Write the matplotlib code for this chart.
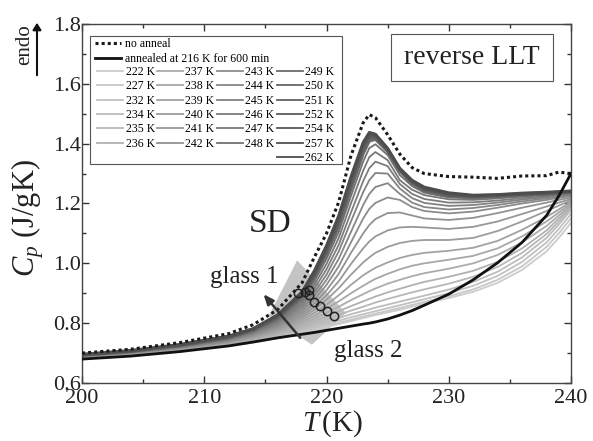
import numpy as np
import matplotlib
matplotlib.use("Agg")
import matplotlib.pyplot as plt
from matplotlib.patches import Polygon, Rectangle
from matplotlib.lines import Line2D
from matplotlib.ticker import MultipleLocator

plt.rcParams['font.family'] = ['Liberation Serif', 'DejaVu Serif']
plt.rcParams['mathtext.fontset'] = 'custom'
plt.rcParams['mathtext.rm'] = 'Liberation Serif'
plt.rcParams['mathtext.it'] = 'Liberation Serif:italic'

# temperature grid (K) shared by all scans
T = [200, 204, 208, 212, 214, 216, 218, 219, 220, 221, 222, 223, 223.5, 224,
     225, 226, 227, 228, 230, 232, 234, 236, 238, 239, 240]

# Cp (J/gK)
cp_no_anneal = [0.700, 0.713, 0.735, 0.765, 0.795, 0.845, 0.935, 1.020, 1.100, 1.205,
                1.360, 1.470, 1.497, 1.487, 1.430, 1.365, 1.320, 1.300, 1.290, 1.288,
                1.284, 1.292, 1.293, 1.305, 1.300]
cp_216 = [0.680, 0.690, 0.705, 0.724, 0.737, 0.751, 0.763, 0.769, 0.776, 0.783,
          0.790, 0.797, 0.800, 0.804, 0.814, 0.827, 0.842, 0.860, 0.897, 0.945,
          1.002, 1.070, 1.160, 1.225, 1.300]

cp_222 = [0.683, 0.692, 0.706, 0.723, 0.735, 0.749, 0.767, 0.777, 0.787, 0.797, 0.807, 0.817, 0.822,
          0.827, 0.836, 0.845, 0.855, 0.865, 0.884, 0.905, 0.935, 0.978, 1.040, 1.085, 1.135]
cp_227 = [0.683, 0.693, 0.707, 0.724, 0.737, 0.751, 0.770, 0.780, 0.791, 0.801, 0.812, 0.822, 0.827,
          0.832, 0.841, 0.851, 0.861, 0.871, 0.890, 0.913, 0.945, 0.990, 1.055, 1.100, 1.150]
cp_232 = [0.684, 0.694, 0.708, 0.726, 0.739, 0.754, 0.774, 0.785, 0.797, 0.808, 0.820, 0.830, 0.835,
          0.840, 0.850, 0.860, 0.870, 0.880, 0.900, 0.925, 0.958, 1.005, 1.070, 1.115, 1.165]
cp_234 = [0.685, 0.695, 0.709, 0.727, 0.741, 0.757, 0.779, 0.791, 0.804, 0.817, 0.830, 0.841, 0.846,
          0.852, 0.862, 0.872, 0.882, 0.892, 0.912, 0.938, 0.972, 1.020, 1.085, 1.130, 1.178]
cp_235 = [0.686, 0.696, 0.710, 0.729, 0.743, 0.760, 0.784, 0.798, 0.813, 0.828, 0.842, 0.855, 0.862,
          0.869, 0.881, 0.892, 0.903, 0.913, 0.932, 0.955, 0.988, 1.035, 1.098, 1.140, 1.185]
cp_236 = [0.686, 0.696, 0.711, 0.730, 0.745, 0.764, 0.790, 0.806, 0.823, 0.840, 0.857, 0.873, 0.881,
          0.889, 0.903, 0.915, 0.927, 0.938, 0.955, 0.975, 1.005, 1.050, 1.110, 1.150, 1.190]
cp_237 = [0.687, 0.697, 0.712, 0.732, 0.748, 0.768, 0.797, 0.815, 0.835, 0.855, 0.877, 0.897, 0.907,
          0.916, 0.932, 0.945, 0.957, 0.967, 0.982, 1.000, 1.028, 1.070, 1.125, 1.160, 1.195]
cp_238 = [0.687, 0.698, 0.713, 0.733, 0.750, 0.772, 0.804, 0.824, 0.848, 0.873, 0.900, 0.925, 0.937,
          0.948, 0.965, 0.980, 0.992, 1.000, 1.012, 1.025, 1.050, 1.090, 1.140, 1.170, 1.200]
cp_239 = [0.688, 0.699, 0.714, 0.735, 0.752, 0.776, 0.811, 0.834, 0.862, 0.893, 0.928, 0.960, 0.973,
          0.985, 1.003, 1.018, 1.028, 1.035, 1.042, 1.052, 1.075, 1.112, 1.155, 1.180, 1.205]
cp_240 = [0.688, 0.699, 0.715, 0.737, 0.755, 0.780, 0.818, 0.845, 0.878, 0.917, 0.962, 1.003, 1.020,
          1.035, 1.055, 1.068, 1.075, 1.078, 1.078, 1.085, 1.108, 1.140, 1.175, 1.193, 1.210]
cp_241 = [0.689, 0.700, 0.716, 0.738, 0.757, 0.784, 0.825, 0.855, 0.893, 0.940, 0.998, 1.050, 1.073,
          1.090, 1.110, 1.120, 1.122, 1.120, 1.115, 1.122, 1.140, 1.165, 1.190, 1.203, 1.215]
cp_242 = [0.689, 0.700, 0.717, 0.740, 0.760, 0.788, 0.832, 0.866, 0.910, 0.965, 1.035, 1.100, 1.128,
          1.148, 1.168, 1.170, 1.160, 1.150, 1.145, 1.152, 1.168, 1.186, 1.203, 1.212, 1.220]
cp_243 = [0.690, 0.701, 0.718, 0.742, 0.763, 0.792, 0.840, 0.878, 0.928, 0.990, 1.070, 1.150, 1.182,
          1.202, 1.220, 1.212, 1.188, 1.175, 1.167, 1.173, 1.186, 1.200, 1.212, 1.219, 1.225]
cp_244 = [0.690, 0.702, 0.719, 0.743, 0.765, 0.796, 0.848, 0.890, 0.945, 1.015, 1.105, 1.195, 1.232,
          1.255, 1.268, 1.232, 1.203, 1.188, 1.180, 1.185, 1.195, 1.207, 1.217, 1.223, 1.228]
cp_245 = [0.691, 0.702, 0.720, 0.745, 0.767, 0.800, 0.856, 0.902, 0.962, 1.040, 1.140, 1.238, 1.278,
          1.302, 1.300, 1.250, 1.218, 1.202, 1.192, 1.195, 1.203, 1.213, 1.221, 1.226, 1.230]
cp_246 = [0.691, 0.703, 0.721, 0.746, 0.769, 0.804, 0.864, 0.915, 0.980, 1.062, 1.170, 1.275, 1.318,
          1.340, 1.325, 1.265, 1.232, 1.215, 1.203, 1.204, 1.210, 1.218, 1.224, 1.228, 1.232]
cp_247 = [0.692, 0.704, 0.722, 0.748, 0.771, 0.808, 0.872, 0.928, 0.998, 1.085, 1.200, 1.310, 1.355,
          1.372, 1.345, 1.278, 1.246, 1.228, 1.214, 1.212, 1.217, 1.223, 1.228, 1.231, 1.234]
cp_248 = [0.692, 0.704, 0.723, 0.749, 0.773, 0.812, 0.880, 0.940, 1.015, 1.105, 1.225, 1.340, 1.385,
          1.398, 1.362, 1.295, 1.258, 1.236, 1.220, 1.217, 1.221, 1.226, 1.230, 1.233, 1.236]
cp_249 = [0.693, 0.705, 0.724, 0.751, 0.776, 0.816, 0.887, 0.950, 1.030, 1.123, 1.246, 1.365, 1.408,
          1.414, 1.373, 1.308, 1.266, 1.242, 1.224, 1.220, 1.223, 1.227, 1.231, 1.234, 1.237]
cp_250 = [0.693, 0.706, 0.725, 0.752, 0.777, 0.818, 0.890, 0.954, 1.035, 1.130, 1.255, 1.373, 1.414,
          1.418, 1.376, 1.310, 1.269, 1.244, 1.226, 1.222, 1.225, 1.229, 1.232, 1.235, 1.238]
cp_251 = [0.694, 0.706, 0.726, 0.753, 0.778, 0.820, 0.893, 0.958, 1.040, 1.137, 1.262, 1.381, 1.420,
          1.422, 1.378, 1.312, 1.271, 1.246, 1.228, 1.223, 1.226, 1.230, 1.233, 1.236, 1.239]
cp_252 = [0.694, 0.707, 0.726, 0.754, 0.779, 0.822, 0.896, 0.962, 1.045, 1.143, 1.270, 1.388, 1.425,
          1.425, 1.380, 1.313, 1.272, 1.248, 1.229, 1.224, 1.227, 1.231, 1.234, 1.237, 1.240]
cp_254 = [0.695, 0.707, 0.727, 0.755, 0.780, 0.824, 0.899, 0.966, 1.050, 1.150, 1.278, 1.395, 1.430,
          1.428, 1.382, 1.314, 1.274, 1.250, 1.231, 1.225, 1.228, 1.232, 1.235, 1.238, 1.240]
cp_257 = [0.695, 0.708, 0.728, 0.756, 0.781, 0.826, 0.902, 0.970, 1.055, 1.155, 1.285, 1.400, 1.434,
          1.430, 1.383, 1.315, 1.275, 1.252, 1.233, 1.226, 1.229, 1.233, 1.236, 1.239, 1.241]
cp_262 = [0.696, 0.709, 0.729, 0.757, 0.782, 0.828, 0.905, 0.975, 1.060, 1.160, 1.290, 1.405, 1.438,
          1.432, 1.385, 1.318, 1.278, 1.255, 1.236, 1.228, 1.230, 1.235, 1.238, 1.240, 1.242]

anneal_T = [222, 227, 232, 234, 235, 236, 237, 238, 239, 240, 241, 242, 243,
            244, 245, 246, 247, 248, 249, 250, 251, 252, 254, 257, 262]
anneal_cp = [cp_222, cp_227, cp_232, cp_234, cp_235, cp_236, cp_237, cp_238, cp_239,
             cp_240, cp_241, cp_242, cp_243, cp_244, cp_245, cp_246, cp_247, cp_248,
             cp_249, cp_250, cp_251, cp_252, cp_254, cp_257, cp_262]

# glass-transition onsets (open circles)
tg_T = [217.7, 218.2, 218.6, 218.6, 219.0, 219.5, 220.0, 220.6]
tg_cp = [0.900, 0.905, 0.910, 0.893, 0.872, 0.857, 0.842, 0.825]

# shaded transition region
shade_T = [217.6, 221.6, 218.8, 215.3]
shade_cp = [1.010, 0.834, 0.728, 0.826]

fig = plt.figure(figsize=(5.93, 4.41), dpi=100)
ax = fig.add_axes([0.1383, 0.1315, 0.8246, 0.8141])

ax.add_patch(Polygon(list(zip(shade_T, shade_cp)), closed=True, facecolor='#c4c4c4',
                     edgecolor='none', zorder=1))

grays = np.linspace(0.80, 0.30, len(anneal_T))
handles = []
for i, (ta, cp) in enumerate(zip(anneal_T, anneal_cp)):
    lw = 2.0 if ta >= 249 else 1.3
    ax.plot(T, cp, color=str(grays[i]), lw=lw, zorder=2 + i * 0.01)
    handles.append(Line2D([], [], color=str(grays[i]), lw=1.3, label=f'{ta} K'))

l_no, = ax.plot(T, cp_no_anneal, color='#1a1a1a', lw=2.2, ls=(0, (1, 1)), zorder=4)
l_216, = ax.plot(T, cp_216, color='#111111', lw=2.0, zorder=4)

ax.plot(tg_T, tg_cp, 'o', ms=6, mfc='none', mec='#222222', mew=1.1, zorder=5)

ax.annotate('', xy=(214.7, 0.904), xytext=(218.0, 0.744),
            arrowprops=dict(arrowstyle='-|>,head_length=0.6,head_width=0.25',
                            color='#333333', lw=1.8), zorder=5)

ax.text(213.3, 0.954, 'glass 1', fontsize=18, ha='center', va='center', color='#222222')
ax.text(223.4, 0.707, 'glass 2', fontsize=18, ha='center', va='center', color='#222222')
ax.text(215.4, 1.131, 'SD', fontsize=24, ha='center', va='center', color='#222222')

ax.set_xlim(200, 240)
ax.set_ylim(0.6, 1.8)
ax.xaxis.set_major_locator(MultipleLocator(10))
ax.xaxis.set_minor_locator(MultipleLocator(5))
ax.yaxis.set_major_locator(MultipleLocator(0.2))
ax.yaxis.set_minor_locator(MultipleLocator(0.1))
ax.yaxis.set_major_formatter(matplotlib.ticker.FormatStrFormatter('%.1f'))
ax.tick_params(which='both', direction='in', top=True, right=True, colors='#333333',
               labelcolor='#222222', labelsize=16, width=1)
ax.tick_params(which='major', length=5)
ax.tick_params(axis='y', which='major', pad=1)
ax.tick_params(axis='x', which='major', pad=4)
ax.tick_params(which='minor', length=3)
for s in ax.spines.values():
    s.set_color('#444444')
    s.set_linewidth(1)

fig.text(28 / 593, 1 - 218 / 441, '$C_p$ (J/gK)', rotation=90, fontsize=22,
         ha='center', va='center', color='#222222')
fig.text(332 / 593, 1 - 424 / 441, r'$T\,$(K)', fontsize=21, ha='center', va='center',
         color='#222222')
fig.text(25 / 593, 1 - 45 / 441, 'endo', rotation=90, fontsize=15, ha='center', va='center',
         color='#222222')
fig.add_artist(matplotlib.patches.FancyArrowPatch(
    (37 / 593, 1 - 78 / 441), (37 / 593, 1 - 20 / 441), transform=fig.transFigure,
    arrowstyle='-|>,head_length=4,head_width=2.5', color='#111111', lw=1.5))

# legend: two stacked blocks inside one frame
leg1 = ax.legend([l_no, l_216], ['no anneal', 'annealed at 216 K for 600 min'],
                 loc='upper left', bbox_to_anchor=(0.027, 0.961), frameon=False,
                 fontsize=8.5, handlelength=2.2, handletextpad=0.3, borderpad=0,
                 borderaxespad=0, labelspacing=0.25)
ax.add_artist(leg1)

blank = Line2D([], [], color='none')
order = []
cols = [anneal_T[0:6], anneal_T[6:12], anneal_T[12:18], anneal_T[18:25]]
lab_handles = {h.get_label(): h for h in handles}
for c in cols:
    for ta in c:
        order.append((lab_handles[f'{ta} K'], f'{ta} K'))
    if len(c) < 7:
        order.append((blank, ''))
leg2 = ax.legend([o[0] for o in order], [o[1] for o in order], ncol=4,
                 loc='upper left', bbox_to_anchor=(0.031, 0.883), frameon=False,
                 fontsize=8.5, handlelength=2.2, handletextpad=0.2, borderpad=0,
                 borderaxespad=0, labelspacing=0.2, columnspacing=0.2)

ax.add_patch(Rectangle((0.0164, 0.610), 0.5153, 0.3566, transform=ax.transAxes,
                       facecolor='none', edgecolor='#555555', lw=0.8, zorder=6))

ax.add_patch(Rectangle((0.632, 0.841), 0.331, 0.131, transform=ax.transAxes,
                       facecolor='white', edgecolor='#555555', lw=0.8, zorder=6))
ax.text(0.7975, 0.9067, 'reverse LLT', transform=ax.transAxes, fontsize=20,
        ha='center', va='center', color='#222222', zorder=7)

fig.savefig('out.png', dpi=100)
